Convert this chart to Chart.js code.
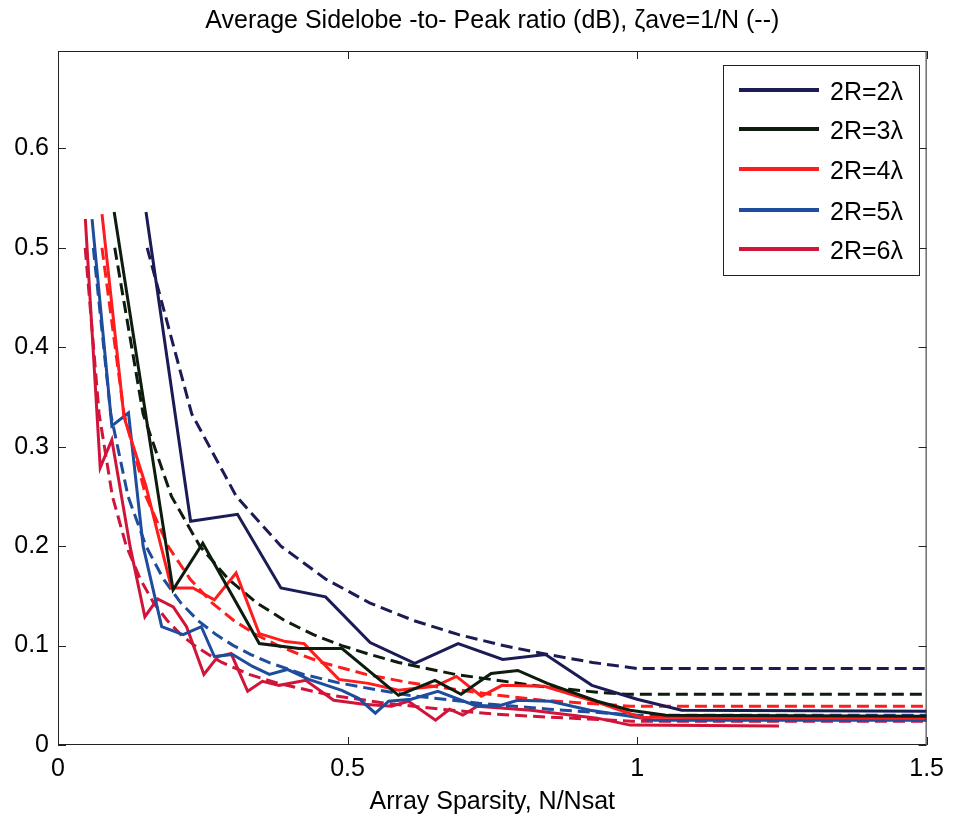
<!DOCTYPE html>
<html>
<head>
<meta charset="utf-8">
<script src="https://cdn.jsdelivr.net/npm/chart.js@4.4.1/dist/chart.umd.min.js"></script>
<style>
  html, body { margin: 0; padding: 0; background: #fff; }
  #wrap { width: 953px; height: 817px; }
</style>
</head>
<body>
<div id="wrap"><canvas id="sll"></canvas></div>
<script>
// Ejes
const xTickVals = [0, 0.5, 1, 1.5];
const xTickLabels = ['0', '0.5', '1', '1.5'];
const yTickVals = [0, 0.1, 0.2, 0.3, 0.4, 0.5, 0.6];
const yTickLabels = ['0', '0.1', '0.2', '0.3', '0.4', '0.5', '0.6'];

const chartTitle = 'Average Sidelobe -to- Peak ratio (dB), ζave=1/N (--)';
const seriesNames = ['2R=2λ', '2R=3λ', '2R=4λ', '2R=5λ', '2R=6λ'];
const seriesColors = ['#1b1b55', '#0e1c0e', '#ff1c1c', '#1d4d9c', '#d0143a'];

// Curvas simuladas (líneas continuas)
const r2SimX = [0.152, 0.229, 0.310, 0.385, 0.462, 0.539, 0.616, 0.691, 0.768, 0.842, 0.922, 1.0, 1.077, 1.5];
const r2SimY = [0.536, 0.225, 0.232, 0.158, 0.149, 0.103, 0.082, 0.102, 0.086, 0.091, 0.060, 0.046, 0.035, 0.034];

const r3SimX = [0.097, 0.1987, 0.250, 0.3476, 0.4163, 0.4905, 0.588, 0.651, 0.696, 0.748, 0.794, 0.845, 0.931, 0.988, 1.05, 1.5];
const r3SimY = [0.536, 0.156, 0.203, 0.102, 0.097, 0.097, 0.050, 0.065, 0.051, 0.072, 0.075, 0.062, 0.044, 0.035, 0.030, 0.029];

const r4SimX = [0.076, 0.114, 0.152, 0.196, 0.233, 0.270, 0.3075, 0.3475, 0.393, 0.425, 0.485, 0.536, 0.588, 0.651, 0.688, 0.731, 0.767, 0.840, 0.937, 1.005, 1.5];
const r4SimY = [0.534, 0.33, 0.26, 0.158, 0.158, 0.146, 0.173, 0.112, 0.104, 0.102, 0.066, 0.062, 0.055, 0.059, 0.069, 0.049, 0.060, 0.059, 0.042, 0.028, 0.027];

const r5SimX = [0.0588, 0.093, 0.1217, 0.147, 0.179, 0.216, 0.2475, 0.270, 0.3017, 0.336, 0.365, 0.396, 0.433, 0.490, 0.519, 0.548, 0.571, 0.610, 0.656, 0.719, 0.759, 0.794, 0.850, 0.919, 0.988, 1.03, 1.5];
const r5SimY = [0.529, 0.321, 0.334, 0.200, 0.119, 0.111, 0.119, 0.089, 0.091, 0.079, 0.071, 0.076, 0.066, 0.055, 0.047, 0.032, 0.044, 0.046, 0.054, 0.040, 0.039, 0.045, 0.044, 0.035, 0.029, 0.025, 0.025];

const r6SimX = [0.0472, 0.0729, 0.093, 0.1244, 0.150, 0.172, 0.199, 0.222, 0.252, 0.276, 0.299, 0.3275, 0.353, 0.382, 0.4277, 0.476, 0.528, 0.576, 0.605, 0.652, 0.676, 0.699, 0.724, 0.8166, 0.931, 0.988, 1.245];
const r6SimY = [0.529, 0.279, 0.307, 0.200, 0.129, 0.147, 0.139, 0.119, 0.071, 0.089, 0.092, 0.054, 0.064, 0.060, 0.065, 0.045, 0.041, 0.039, 0.044, 0.025, 0.036, 0.030, 0.039, 0.035, 0.027, 0.020, 0.019];

// Curvas zeta_ave = 1/N (líneas discontinuas)
const r2ThX = [0.154, 0.231, 0.308, 0.385, 0.462, 0.538, 0.615, 0.692, 0.769, 0.846, 0.923, 1.0, 1.5];
const r2ThY = [0.5, 0.333, 0.25, 0.2, 0.167, 0.143, 0.125, 0.111, 0.1, 0.091, 0.083, 0.077, 0.077];

const r3ThX = [0.098, 0.147, 0.196, 0.245, 0.294, 0.343, 0.392, 0.441, 0.49, 0.539, 0.588, 0.637, 0.686, 0.735, 0.784, 0.833, 0.882, 0.931, 0.98, 1.5];
const r3ThY = [0.5, 0.333, 0.25, 0.2, 0.167, 0.143, 0.125, 0.111, 0.1, 0.091, 0.083, 0.077, 0.071, 0.067, 0.063, 0.059, 0.056, 0.053, 0.051, 0.051];

const r4ThX = [0.076, 0.114, 0.152, 0.19, 0.228, 0.266, 0.304, 0.342, 0.38, 0.418, 0.456, 0.494, 0.532, 0.608, 0.684, 0.76, 0.836, 0.912, 0.988, 1.5];
const r4ThY = [0.5, 0.333, 0.25, 0.2, 0.167, 0.143, 0.125, 0.111, 0.1, 0.091, 0.083, 0.077, 0.071, 0.0625, 0.056, 0.05, 0.045, 0.042, 0.039, 0.039];

const r5ThX = [0.061, 0.091, 0.121, 0.152, 0.182, 0.212, 0.242, 0.273, 0.303, 0.333, 0.364, 0.394, 0.424, 0.485, 0.545, 0.606, 0.727, 0.848, 1.0, 1.5];
const r5ThY = [0.5, 0.333, 0.25, 0.2, 0.167, 0.143, 0.125, 0.111, 0.1, 0.091, 0.083, 0.077, 0.071, 0.0625, 0.056, 0.05, 0.042, 0.036, 0.030, 0.030];

const r6ThX = [0.047, 0.071, 0.094, 0.118, 0.142, 0.165, 0.189, 0.212, 0.236, 0.26, 0.283, 0.307, 0.33, 0.378, 0.425, 0.472, 0.566, 0.661, 0.755, 0.85, 0.991, 1.5];
const r6ThY = [0.5, 0.333, 0.25, 0.2, 0.167, 0.143, 0.125, 0.111, 0.1, 0.091, 0.083, 0.077, 0.071, 0.0625, 0.056, 0.05, 0.042, 0.036, 0.031, 0.028, 0.024, 0.024];

const simX = [r2SimX, r3SimX, r4SimX, r5SimX, r6SimX];
const simY = [r2SimY, r3SimY, r4SimY, r5SimY, r6SimY];
const thX = [r2ThX, r3ThX, r4ThX, r5ThX, r6ThX];
const thY = [r2ThY, r3ThY, r4ThY, r5ThY, r6ThY];

const FONT = "'Liberation Sans', Arial, sans-serif";
const FONT_SIZE = 25;

function toPoints(xs, ys) {
    return xs.map((x, i) => ({ x: x, y: ys[i] }));
}

const datasets = [];
seriesNames.forEach((name, i) => {
    datasets.push({
        label: name,
        data: toPoints(simX[i], simY[i]),
        borderColor: seriesColors[i],
        borderWidth: 3,
        pointRadius: 0,
        tension: 0,
        fill: false,
    });
});
seriesNames.forEach((name, i) => {
    datasets.push({
        label: name + ' (1/N)',
        data: toPoints(thX[i], thY[i]),
        borderColor: seriesColors[i],
        borderWidth: 3,
        borderDash: [12, 6],
        pointRadius: 0,
        tension: 0,
        fill: false,
    });
});

// Título centrado sobre el área de datos, caja de ejes con marcas hacia dentro y leyenda
const axesBox = {
    id: 'axesBox',
    afterDatasetsDraw(chart) {
        const { ctx, chartArea: a, scales } = chart;
        ctx.save();
        ctx.fillStyle = '#000';
        ctx.font = FONT_SIZE + 'px ' + FONT;
        ctx.textAlign = 'center';
        ctx.textBaseline = 'middle';
        ctx.fillText(chartTitle, (a.left + a.right) / 2, 21);

        ctx.strokeStyle = '#222';
        ctx.lineWidth = 1;
        ctx.strokeRect(a.left + 0.5, a.top + 0.5, a.right - a.left - 1, a.bottom - a.top - 1);
        const len = 8;
        ctx.beginPath();
        xTickVals.forEach(v => {
            const px = Math.round(scales.x.getPixelForValue(v)) + 0.5;
            ctx.moveTo(px, a.bottom); ctx.lineTo(px, a.bottom - len);
            ctx.moveTo(px, a.top); ctx.lineTo(px, a.top + len);
        });
        yTickVals.forEach(v => {
            const py = Math.round(scales.y.getPixelForValue(v)) + 0.5;
            ctx.moveTo(a.left, py); ctx.lineTo(a.left + len, py);
            ctx.moveTo(a.right, py); ctx.lineTo(a.right - len, py);
        });
        ctx.stroke();

        // leyenda
        const bx = 723, by = 65, bw = 196, bh = 210;
        ctx.fillStyle = '#fff';
        ctx.fillRect(bx, by, bw, bh);
        ctx.strokeStyle = '#222';
        ctx.strokeRect(bx + 0.5, by + 0.5, bw, bh);
        const rows = [90, 129, 169, 210, 249];
        ctx.textAlign = 'left';
        chart.data.datasets.slice(0, 5).forEach((ds, i) => {
            ctx.strokeStyle = ds.borderColor;
            ctx.lineWidth = 4;
            ctx.beginPath();
            ctx.moveTo(739, rows[i]);
            ctx.lineTo(819, rows[i]);
            ctx.stroke();
            ctx.fillStyle = '#000';
            ctx.fillText(ds.label, 830, rows[i] + 3);
        });
        ctx.restore();
    }
};

const chart = new Chart(document.getElementById('sll'), {
    type: 'line',
    data: { datasets: datasets },
    plugins: [axesBox],
    options: {
        responsive: true,
        maintainAspectRatio: false,
        animation: false,
        layout: { padding: { left: 0, right: 21, top: 51, bottom: 0 } },
        plugins: {
            legend: { display: false },
            tooltip: { enabled: false },
            title: { display: false },
        },
        scales: {
            x: {
                type: 'linear',
                min: 0,
                max: 1.5,
                grid: { display: false, drawTicks: false },
                border: { display: false },
                afterBuildTicks: s => { s.ticks = xTickVals.map(v => ({ value: v })); },
                afterFit: s => { s.height = 72; },
                ticks: {
                    padding: 9,
                    color: '#000',
                    font: { family: FONT, size: FONT_SIZE },
                    maxRotation: 0,
                    callback: (v) => xTickLabels[xTickVals.indexOf(v)],
                },
                title: {
                    display: true,
                    text: 'Array Sparsity, N/Nsat',
                    color: '#000',
                    font: { family: FONT, size: FONT_SIZE },
                    padding: { top: 0, bottom: 0 },
                },
            },
            y: {
                type: 'linear',
                min: 0,
                max: 0.698,
                grid: { display: false, drawTicks: false },
                border: { display: false },
                afterBuildTicks: s => { s.ticks = yTickVals.map(v => ({ value: v })); },
                afterFit: s => { s.width = 58; },
                ticks: {
                    padding: 9,
                    color: '#000',
                    font: { family: FONT, size: FONT_SIZE },
                    callback: (v) => yTickLabels[yTickVals.indexOf(v)],
                },
            },
        },
    },
});
</script>
</body>
</html>
